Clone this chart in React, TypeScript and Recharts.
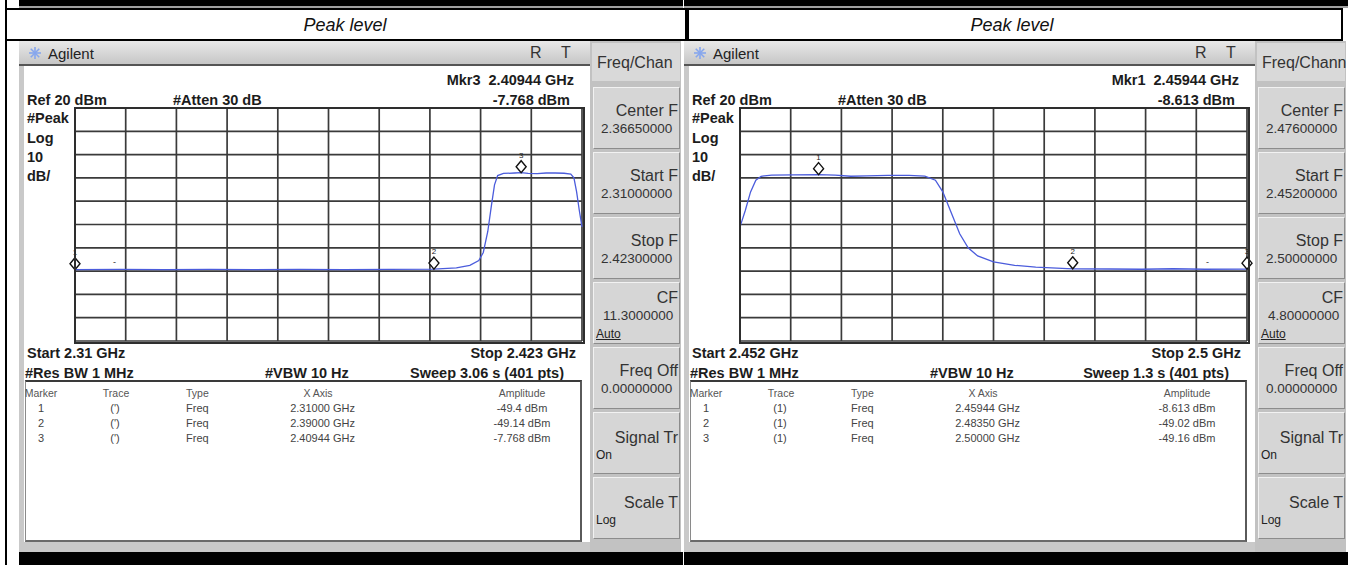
import React from 'react';
import { ComposedChart, Line, Scatter, XAxis, YAxis, CartesianGrid } from 'recharts';

const FONT = '"Liberation Sans", Arial, Helvetica, sans-serif';

// left sweep, 2.31 - 2.423 GHz
const leftStart = 2.31;
const leftStop = 2.423;
const leftFreq = [2.31, 2.32, 2.33, 2.34, 2.35, 2.36, 2.37, 2.38, 2.39, 2.395, 2.398, 2.4, 2.401, 2.402, 2.4028, 2.4035, 2.4042, 2.4055, 2.408, 2.40944, 2.411, 2.413, 2.415, 2.417, 2.419, 2.4205, 2.4212, 2.4218, 2.4224, 2.423];
const leftLevel = [-49.4, -49.3, -49.4, -49.3, -49.4, -49.3, -49.4, -49.3, -49.14, -48.6, -47.5, -45.5, -42, -33, -22, -13, -9, -8.1, -7.9, -7.768, -8.1, -8.2, -7.9, -7.9, -8.0, -8.4, -10, -16, -24, -31];
const leftMkrFreq = [2.31, 2.39, 2.40944];
const leftMkrLevel = [-49.4, -49.14, -7.768];
const leftMkrAmp = ['-49.4', '-49.14', '-7.768'];

// right sweep, 2.452 - 2.5 GHz
const rightStart = 2.452;
const rightStop = 2.5;
const rightFreq = [2.452, 2.4525, 2.453, 2.4535, 2.454, 2.455, 2.457, 2.45944, 2.461, 2.4625, 2.464, 2.466, 2.468, 2.4695, 2.4705, 2.4712, 2.472, 2.4728, 2.4736, 2.4745, 2.476, 2.478, 2.48, 2.4835, 2.487, 2.49, 2.493, 2.496, 2.5];
const rightLevel = [-31, -24, -16, -11, -9.3, -8.8, -8.7, -8.613, -8.8, -9.3, -9.1, -8.9, -8.9, -9.2, -11, -16, -25, -34, -40, -43.5, -46, -47.5, -48.3, -49.02, -49.1, -49.2, -49.0, -49.2, -49.16];
const rightMkrFreq = [2.45944, 2.4835, 2.5];
const rightMkrLevel = [-8.613, -49.02, -49.16];
const rightMkrAmp = ['-8.613', '-49.02', '-49.16'];

const refLevel = 20;
const bottomLevel = -80;

// softkeys, as far as they are visible on the screen
const leftKeys = [
  { title: 'Center F', value: '2.36650000' },
  { title: 'Start F', value: '2.31000000' },
  { title: 'Stop F', value: '2.42300000' },
  { title: 'CF', value: '11.3000000', note: 'Auto' },
  { title: 'Freq Off', value: '0.00000000' },
  { title: 'Signal Tr', note: 'On' },
  { title: 'Scale T', note: 'Log' },
];
const rightKeys = [
  { title: 'Center F', value: '2.47600000' },
  { title: 'Start F', value: '2.45200000' },
  { title: 'Stop F', value: '2.50000000' },
  { title: 'CF', value: '4.80000000', note: 'Auto' },
  { title: 'Freq Off', value: '0.00000000' },
  { title: 'Signal Tr', note: 'On' },
  { title: 'Scale T', note: 'Log' },
];

const GX = 75;
const GY = 108;
const GW = 507;
const GH = 233;
const PAD = 12;

type TxtProps = {
  x: number; y: number; s: string; size?: number; bold?: boolean;
  align?: 'left' | 'center' | 'right'; color?: string; italic?: boolean; underline?: boolean;
};

function Txt({ x, y, s, size = 14, bold = false, align = 'left', color = '#1c1c1c', italic = false, underline = false }: TxtProps) {
  const tx = align === 'left' ? '0' : align === 'center' ? '-50%' : '-100%';
  return (
    <div
      style={{
        position: 'absolute', left: x, top: y, transform: `translate(${tx}, -50%)`,
        fontSize: size, fontWeight: bold ? 700 : 400, color, whiteSpace: 'pre', lineHeight: 1,
        fontStyle: italic ? 'italic' : 'normal', textDecoration: underline ? 'underline' : 'none',
      }}
    >
      {s}
    </div>
  );
}

const rect = (left: number, top: number, width: number, height: number, background: string): React.CSSProperties => ({
  position: 'absolute', left, top, width, height, background,
});

const Diamond = (props: any) => {
  const { cx, cy, payload } = props;
  if (cx == null || cy == null) return null;
  const c = cy - 6;
  return (
    <g>
      <path d={`M${cx},${c - 6} L${cx + 5},${c} L${cx},${c + 6} L${cx - 5},${c} Z`} fill="#fff" stroke="#111" strokeWidth={1.4} />
      <text x={cx} y={c - 9} textAnchor="middle" fontSize={8} fontFamily={FONT} fill="#222">{payload.n}</text>
    </g>
  );
};

function Trace({ freq, level, mkrFreq, mkrLevel, start, stop, left }: any) {
  const data = freq.map((f: number, i: number) => ({ f, v: level[i] }));
  const mkr = mkrFreq.map((f: number, i: number) => ({ f, v: mkrLevel[i], n: i + 1 }));
  const steps = (origin: number, size: number) => Array.from({ length: 11 }, (_, i) => origin + (i * size) / 10);
  return (
    <div style={{ position: 'absolute', left: left - PAD, top: GY - PAD }}>
      <ComposedChart width={GW + 2 * PAD} height={GH + 2 * PAD} margin={{ top: PAD, right: PAD, bottom: PAD, left: PAD }}>
        <XAxis type="number" dataKey="f" domain={[start, stop]} hide />
        <YAxis type="number" dataKey="v" domain={[bottomLevel, refLevel]} hide />
        <CartesianGrid
          stroke="#3a3a3a"
          strokeWidth={1.7}
          verticalCoordinatesGenerator={() => steps(PAD, GW)}
          horizontalCoordinatesGenerator={() => steps(PAD, GH)}
        />
        <Line data={data} dataKey="v" type="linear" stroke="#4b5cdc" strokeWidth={1.3} dot={false} isAnimationActive={false} />
        <Scatter data={mkr} dataKey="v" shape={Diamond} isAnimationActive={false} />
      </ComposedChart>
    </div>
  );
}

function Panel({ ox, start, stop, freq, level, mkrFreq, mkrLevel, mkrAmp, active, trace, keys, menu, sweep, startLabel, stopLabel }: any) {
  const X = (x: number) => x + ox;
  const rowY = (i: number) => 408 + i * 15;
  return (
    <>
      {/* strip left over from the row above */}
      <div style={rect(X(19), 0, 664, 6, '#000')} />
      <div style={rect(X(19), 6, 664, 2, '#a0a0a0')} />

      {/* screen frame */}
      <div style={rect(X(19), 41, 572, 511, '#c9c9c9')} />
      <div style={{ ...rect(X(19), 41, 572, 23, ''), background: 'linear-gradient(#e9e9e9, #c6c6c6)' }} />
      <div style={rect(X(19), 64, 572, 2, '#555')} />
      <div style={rect(X(24), 66, 566, 476, '#fff')} />
      <div style={rect(X(19), 552, 664, 13, '#000')} />

      <svg style={{ position: 'absolute', left: X(28), top: 46 }} width={14} height={14}>
        {[0, 45, 90, 135].map((a) => {
          const r = (a * Math.PI) / 180;
          return <line key={a} x1={7 - 6 * Math.cos(r)} y1={7 - 6 * Math.sin(r)} x2={7 + 6 * Math.cos(r)} y2={7 + 6 * Math.sin(r)} stroke="#86a6ee" strokeWidth={1.6} />;
        })}
      </svg>
      <Txt x={X(48)} y={53} s="Agilent" size={15} color="#222" />
      <Txt x={X(530)} y={53} s="R" size={16} color="#333" />
      <Txt x={X(561)} y={53} s="T" size={16} color="#333" />

      <Txt x={X(574)} y={80} s={`Mkr${active + 1}  ${mkrFreq[active].toFixed(5)} GHz`} size={14.5} bold align="right" />
      <Txt x={X(27)} y={100} s="Ref 20 dBm" size={14.5} bold />
      <Txt x={X(173)} y={100} s="#Atten 30 dB" size={14.5} bold />
      <Txt x={X(570)} y={100} s={`${mkrAmp[active]} dBm`} size={14.5} bold align="right" />
      <Txt x={X(27)} y={118} s="#Peak" size={14.5} bold />
      <Txt x={X(27)} y={138} s="Log" size={14.5} bold />
      <Txt x={X(27)} y={157} s="10" size={14.5} bold />
      <Txt x={X(27)} y={176} s="dB/" size={14.5} bold />

      <Trace freq={freq} level={level} mkrFreq={mkrFreq} mkrLevel={mkrLevel} start={start} stop={stop} left={X(GX)} />
      <div style={{ position: 'absolute', left: X(GX) - 1, top: GY - 1, width: GW, height: GH, border: '2px solid #2e2e2e' }} />

      <Txt x={X(27)} y={353} s={startLabel} size={14.5} bold />
      <Txt x={X(576)} y={353} s={stopLabel} size={14.5} bold align="right" />
      <Txt x={X(25)} y={373} s="#Res BW 1 MHz" size={14.5} bold />
      <Txt x={X(265)} y={373} s="#VBW 10 Hz" size={14.5} bold />
      <Txt x={X(564)} y={373} s={sweep} size={14.5} bold align="right" />

      {/* marker table */}
      <div style={{ position: 'absolute', left: X(25), top: 380, width: 557, height: 162, boxSizing: 'border-box', borderTop: '2px solid #3a3a3a', borderLeft: '1px solid #8a8a8a', borderRight: '2px solid #5a5a5a', borderBottom: '2px solid #6a6a6a', background: '#fff' }} />
      <Txt x={X(41)} y={393} s="Marker" size={10.5} color="#555" align="center" />
      <Txt x={X(116)} y={393} s="Trace" size={10.5} color="#555" align="center" />
      <Txt x={X(186)} y={393} s="Type" size={10.5} color="#555" />
      <Txt x={X(318)} y={393} s="X Axis" size={10.5} color="#555" align="center" />
      <Txt x={X(522)} y={393} s="Amplitude" size={10.5} color="#555" align="center" />
      {mkrFreq.map((f: number, i: number) => (
        <React.Fragment key={i}>
          <Txt x={X(41)} y={rowY(i)} s={String(i + 1)} size={11} color="#444" align="center" />
          <Txt x={X(115)} y={rowY(i)} s={trace} size={11} color="#444" align="center" />
          <Txt x={X(186)} y={rowY(i)} s="Freq" size={11} color="#444" />
          <Txt x={X(355)} y={rowY(i)} s={`${f.toFixed(5)} GHz`} size={11} color="#444" align="right" />
          <Txt x={X(522)} y={rowY(i)} s={`${mkrAmp[i]} dBm`} size={11} color="#444" align="center" />
        </React.Fragment>
      ))}

      {/* softkeys */}
      <div style={rect(X(590), 41, 91, 511, '#c2c2c2')} />
      <div style={rect(X(592), 43, 88, 38, '#d9d9d9')} />
      <Txt x={X(597)} y={63} s={menu} size={16} color="#333" />
      {keys.map((k: any, i: number) => {
        const top = 87 + i * 65;
        const cf = k.note === 'Auto';
        const titleY = cf ? 15 : k.value ? 23 : 25;
        return (
          <div
            key={i}
            style={{
              position: 'absolute', left: X(593), top, width: 87, height: 62, boxSizing: 'border-box',
              background: '#d6d6d6', borderTop: '1px solid #f2f2f2', borderLeft: '1px solid #f2f2f2',
              borderRight: '1px solid #8c8c8c', borderBottom: '1px solid #8c8c8c',
            }}
          >
            <Txt x={84} y={titleY} s={k.title} size={16} color="#333" align="right" />
            {k.value && <Txt x={cf ? 9 : 7} y={cf ? 33 : 41} s={k.value} size={13.5} color="#333" />}
            {k.note && <Txt x={2} y={cf ? 51 : 42} s={k.note} size={12} color="#222" underline={cf} />}
          </div>
        );
      })}
    </>
  );
}

export default function App() {
  return (
    <div style={{ position: 'absolute', left: 0, top: 0, width: 1358, height: 565, background: '#fff', fontFamily: FONT, overflow: 'hidden' }}>
      {/* table cell borders and headers */}
      <div style={rect(5, 0, 2, 565, '#000')} />
      <div style={rect(5, 8, 1338, 2, '#000')} />
      <div style={rect(5, 39, 1338, 2, '#000')} />
      <div style={rect(685, 8, 4, 33, '#000')} />
      <div style={rect(1341, 8, 2, 33, '#000')} />
      <Txt x={345} y={25} s="Peak level" size={18} italic align="center" color="#111" />
      <Txt x={1012} y={25} s="Peak level" size={18} italic align="center" color="#111" />

      <Panel
        ox={0} start={leftStart} stop={leftStop} freq={leftFreq} level={leftLevel}
        mkrFreq={leftMkrFreq} mkrLevel={leftMkrLevel} mkrAmp={leftMkrAmp} active={2} trace="(')"
        keys={leftKeys} menu="Freq/Chan" sweep="Sweep 3.06 s (401 pts)" startLabel="Start 2.31 GHz" stopLabel="Stop 2.423 GHz"
      />
      <Panel
        ox={665} start={rightStart} stop={rightStop} freq={rightFreq} level={rightLevel}
        mkrFreq={rightMkrFreq} mkrLevel={rightMkrLevel} mkrAmp={rightMkrAmp} active={0} trace="(1)"
        keys={rightKeys} menu="Freq/Chann" sweep="Sweep 1.3 s (401 pts)" startLabel="Start 2.452 GHz" stopLabel="Stop 2.5 GHz"
      />
      <Txt x={113} y={262} s="-" size={9} color="#333" />
      <Txt x={1206} y={262} s="-" size={9} color="#333" />
    </div>
  );
}
